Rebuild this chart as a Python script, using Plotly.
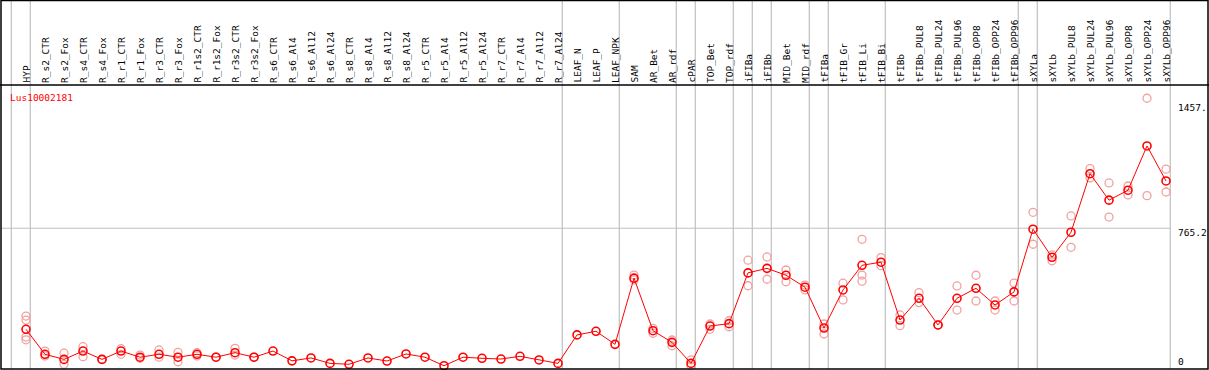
import plotly.graph_objects as go

categories = [
    "HYP", "R_s2_CTR", "R_s2_Fox", "R_s4_CTR", "R_s4_Fox", "R_r1_CTR", "R_r1_Fox",
    "R_r3_CTR", "R_r3_Fox", "R_r1s2_CTR", "R_r1s2_Fox", "R_r3s2_CTR", "R_r3s2_Fox",
    "R_s6_CTR", "R_s6_Al4", "R_s6_Al12", "R_s6_Al24", "R_s8_CTR", "R_s8_Al4",
    "R_s8_Al12", "R_s8_Al24", "R_r5_CTR", "R_r5_Al4", "R_r5_Al12", "R_r5_Al24",
    "R_r7_CTR", "R_r7_Al4", "R_r7_Al12", "R_r7_Al24", "LEAF_N", "LEAF_P", "LEAF_NPK",
    "SAM", "AR_Bet", "AR_rdf", "cPAR", "TOP_Bet", "TOP_rdf", "iFIBa", "iFIBb",
    "MID_Bet", "MID_rdf", "tFIBa", "tFIB_Gr", "tFIB_Li", "tFIB_Bi", "tFIBb",
    "tFIBb_PUL8", "tFIBb_PUL24", "tFIBb_PUL96", "tFIBb_OPP8", "tFIBb_OPP24",
    "tFIBb_OPP96", "sXYLa", "sXYLb", "sXYLb_PUL8", "sXYLb_PUL24", "sXYLb_PUL96",
    "sXYLb_OPP8", "sXYLb_OPP24", "sXYLb_OPP96",
]

mean_values = [
    208, 70, 42, 88, 42, 88, 54, 70, 54, 70, 54, 79, 54,
    88, 34, 50, 20, 15, 50, 33, 72, 54, 7, 54, 48, 44, 59, 39, 20,
    177, 197, 125,
    490, 200, 136, 20, 226, 239, 519, 544, 506, 440,
    215, 425, 561, 578,
    259, 379, 232, 379, 434, 342, 414,
    760, 605, 743, 1066, 920, 975, 1219, 1026,
]

replicate_values = [
    [281, 259, 165, 150], [88, 61], [76, 15], [112, 57], [42, 42], [101, 70], [66, 48],
    [94, 54], [81, 29], [79, 61], [54, 54], [103, 66], [54, 54],
    [], [], [], [], [], [], [], [], [], [], [], [], [], [], [], [],
    [], [], [],
    [507, 480], [213, 186], [149, 117], [39, 7], [237, 208], [255, 222],
    [589, 448], [607, 484], [535, 470], [452, 425],
    [237, 182], [462, 370], [704, 507, 473], [603, 559],
    [287, 228], [410, 355], [232, 232], [447, 314], [506, 364], [364, 314], [463, 364],
    [853, 677], [618, 586], [833, 660], [1094, 1043], [1015, 827], [998, 949],
    [1482, 945], [1091, 965],
]

axis_values = [1457.0, 765.2, 0.0]
axis_texts = ["1457.", "765.2", "0"]
gene_id = "Lus10002181"
group_breaks = [-1, 0, 28, 31, 34, 35, 37, 38, 39, 41, 42, 45, 52, 53, 60]

W, H = 1209, 370
ML, MR, MT, MB = 1, 1, 85, 1
plot_w = W - ML - MR
plot_h = H - MT - MB
x_range = [-1.316, 62.21]
y_range = [-11, 1555]
top_paper = (H - MB) / plot_h  # paper y of the figure top edge
FONT = "DejaVu Sans Mono"


def xpaper(xv):
    return (xv - x_range[0]) / (x_range[1] - x_range[0])


def pix_to_paper_x(px):
    return (px - ML) / plot_w


rep_x, rep_y = [], []
for cat, reps in zip(categories, replicate_values):
    for r in reps:
        rep_x.append(cat)
        rep_y.append(r)

fig = go.Figure()
fig.add_trace(go.Scatter(
    x=rep_x, y=rep_y, mode="markers",
    marker=dict(symbol="circle-open", size=8, color="#f2a0a0", line=dict(width=1.3)),
    cliponaxis=False, showlegend=False, hoverinfo="skip",
))
fig.add_trace(go.Scatter(
    x=categories, y=mean_values, mode="lines+markers",
    line=dict(color="#ff0000", width=1),
    marker=dict(symbol="circle-open", size=8, color="#ff0000", line=dict(width=1.6)),
    cliponaxis=False, showlegend=False,
))

shapes = []
# vertical group separators (full height, through header)
for b in group_breaks:
    xp = xpaper(b + 0.225)
    shapes.append(dict(type="line", xref="paper", yref="paper", x0=xp, x1=xp,
                       y0=0, y1=top_paper, line=dict(color="#c0c0c0", width=1.2), layer="below"))
# horizontal grid at middle value
shapes.append(dict(type="line", xref="paper", yref="y", x0=0, x1=xpaper(group_breaks[-1] + 0.225),
                   y0=axis_values[1], y1=axis_values[1],
                   line=dict(color="#c0c0c0", width=1.2), layer="below"))
# header separator
shapes.append(dict(type="line", xref="paper", yref="paper", x0=-ML / plot_w, x1=1 + MR / plot_w,
                   y0=1, y1=1, line=dict(color="black", width=1.5)))
# outer frame
shapes.append(dict(type="rect", xref="paper", yref="paper", x0=0, x1=1,
                   y0=0, y1=top_paper - 0.5 / plot_h, line=dict(color="black", width=1.5)))

annotations = []
for cat in categories:
    annotations.append(dict(x=cat, xref="x", y=1, yref="paper", text=cat, showarrow=False,
                            textangle=-90, xanchor="center", yanchor="bottom", yshift=0,
                            font=dict(family=FONT, size=9.5, color="black")))
annotations.append(dict(x=pix_to_paper_x(8), xref="paper", y=1, yref="paper", text=gene_id,
                        showarrow=False, xanchor="left", yanchor="top", yshift=-5,
                        font=dict(family=FONT, size=9.5, color="#ff0000")))
for v, t in zip(axis_values, axis_texts):
    if v == 0:
        ya, ys = "bottom", -2
    else:
        ya, ys = "top", 3
    annotations.append(dict(x=pix_to_paper_x(1176), xref="paper", y=v, yref="y", text=t,
                            showarrow=False, xanchor="left", yanchor=ya, yshift=ys,
                            font=dict(family=FONT, size=9.5, color="black")))

fig.update_layout(
    width=W, height=H,
    margin=dict(l=ML, r=MR, t=MT, b=MB, pad=0),
    paper_bgcolor="white", plot_bgcolor="white",
    xaxis=dict(type="category", categoryorder="array", categoryarray=categories,
               range=x_range, visible=False, showgrid=False, zeroline=False),
    yaxis=dict(range=y_range, visible=False, showgrid=False, zeroline=False),
    shapes=shapes, annotations=annotations,
    showlegend=False,
)

fig.write_html(
    "out.html",
    config={"displayModeBar": False},
    post_script="document.body.style.margin='0';document.body.style.overflow='hidden';",
)
